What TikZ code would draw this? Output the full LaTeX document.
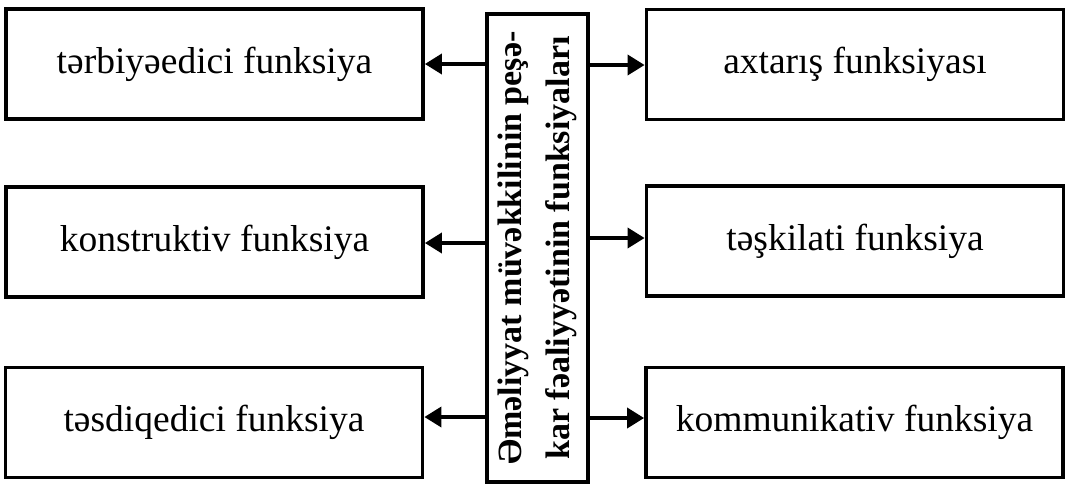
\documentclass[tikz,border=0pt]{standalone}
\usepackage{fontspec}
\setmainfont{Liberation Serif}
\usetikzlibrary{arrows.meta}
\begin{document}
\begin{tikzpicture}[x=1pt,y=-1pt,
  fbox/.style={draw, line width=3.8pt, minimum width=417pt, minimum height=110pt,
    inner sep=0pt, font=\fontsize{37.5}{44}\selectfont, text=black},
  cbox/.style={draw, line width=3.8pt, minimum width=101pt, minimum height=468pt, inner sep=0pt},
  conn/.style={line width=3.6pt, -{Triangle[length=17pt,width=20pt]}}
]
\useasboundingbox (0,0) rectangle (1065,483);
\node[fbox] (l1) at (214.5,64) {tərbiyəedici funksiya};
\node[fbox] (l2) at (214.5,242) {konstruktiv funksiya};
\node[fbox] (l3) at (214,422.5) {təsdiqedici funksiya};
\node[fbox] (r1) at (855,64.5) {axtarış funksiyası};
\node[fbox] (r2) at (855,241) {təşkilati funksiya};
\node[fbox] (r3) at (854.5,422.5) {kommunikativ funksiya};
\node[cbox] (c) at (537.5,248) {};
\node[rotate=90, align=center, font=\fontsize{34}{48}\selectfont\bfseries] (ct) at (c.center)
  {Əməliyyat müvəkkilinin peşə-\\kar fəaliyyətinin funksiyaları};
\coordinate (ya) at (0,64);
\coordinate (yb) at (0,243);
\coordinate (yc) at (0,417);
\coordinate (yd) at (0,65);
\coordinate (ye) at (0,238);
\coordinate (yf) at (0,418);
\draw[conn] (c.west |- ya) -- (l1.east |- ya);
\draw[conn] (c.west |- yb) -- (l2.east |- yb);
\draw[conn] (c.west |- yc) -- (l3.east |- yc);
\draw[conn] (c.east |- yd) -- (r1.west |- yd);
\draw[conn] (c.east |- ye) -- (r2.west |- ye);
\draw[conn] (c.east |- yf) -- (r3.west |- yf);
\end{tikzpicture}
\end{document}
